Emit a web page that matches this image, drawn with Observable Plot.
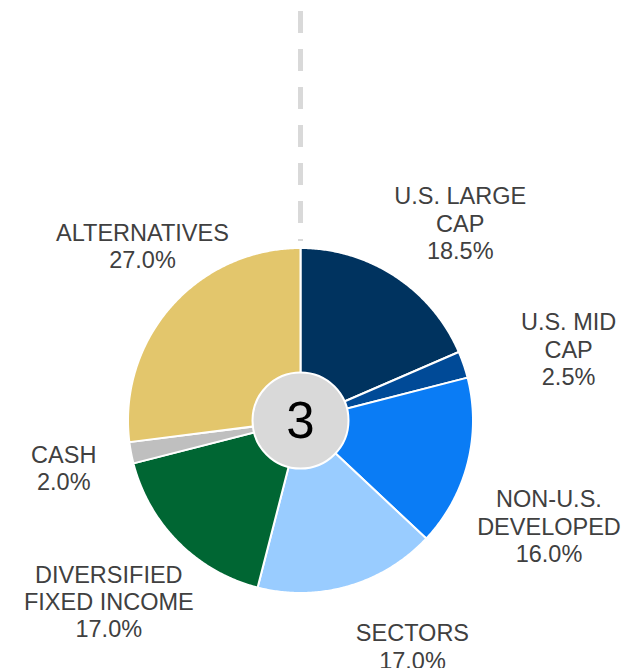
<!DOCTYPE html>
<html>
<head>
<meta charset="utf-8">
<script src="https://cdn.jsdelivr.net/npm/d3@7"></script>
<script src="https://cdn.jsdelivr.net/npm/@observablehq/plot@0.6"></script>
<style>
  html, body { margin: 0; padding: 0; background: #fff; }
  #chart svg { display: block; }
</style>
</head>
<body>
<div id="chart"></div>
<script>
// ---- data ----
const categories = ["U.S. LARGE\nCAP", "U.S. MID\nCAP", "NON-U.S.\nDEVELOPED", "SECTORS", "DIVERSIFIED\nFIXED INCOME", "CASH", "ALTERNATIVES"];
const weights = [18.5, 2.5, 16.0, 17.0, 17.0, 2.0, 27.0];
const colors = ["#00335f", "#004a97", "#0a7cf5", "#99ccff", "#006633", "#bfbfbf", "#e3c66c"];
const centerLabel = "3";

// ---- layout (pixels) ----
const W = 626, H = 668;
const CX = 300, CY = 420, R = 172.5;
const labelRadius = 240;
const labelNudge = [[28, 3], [41, 6], [16, 46], [45, -5], [-22, 11], [-1, 2], [22, -16]];

const total = d3.sum(weights);
const deg = Math.PI / 180;

// slice polygons (angles clockwise from 12 o'clock), in data units centred on pie
const slices = [];
let acc = 0;
const labels = [];
weights.forEach((w, i) => {
  const a0 = acc / total * 360, a1 = (acc + w) / total * 360;
  acc += w;
  const name = categories[i];
  slices.push({name, x: 0, y: 0});
  const n = Math.max(2, Math.ceil((a1 - a0) / 0.5));
  for (let k = 0; k <= n; k++) {
    const a = (a0 + (a1 - a0) * k / n) * deg;
    slices.push({name, x: R * Math.sin(a), y: R * Math.cos(a)});
  }
  const am = (a0 + a1) / 2 * deg;
  labels.push({
    text: name + "\n" + w.toFixed(1) + "%",
    x: labelRadius * Math.sin(am) + labelNudge[i][0],
    y: labelRadius * Math.cos(am) - labelNudge[i][1]
  });
});

const chart = Plot.plot({
  width: W,
  height: H,
  margin: 0,
  x: {type: "linear", domain: [-CX, W - CX], range: [0, W], axis: null},
  y: {type: "linear", domain: [CY - H, CY], range: [H, 0], axis: null},
  color: {domain: categories, range: colors},
  style: {fontFamily: "'Liberation Sans', Arial, sans-serif", background: "#fff"},
  marks: [
    Plot.ruleX([0], {y1: CY - 11, y2: CY - 241, stroke: "#d9d9d9", strokeWidth: 5, strokeDasharray: "22,16"}),
    Plot.line(slices, {x: "x", y: "y", z: "name", fill: "name", stroke: "#ffffff", strokeWidth: 2, strokeLinejoin: "round", curve: "linear-closed"}),
    Plot.dot([{x: 0, y: 0}], {x: "x", y: "y", r: 48, fill: "#d9d9d9", stroke: "#ffffff", strokeWidth: 2}),
    Plot.text([{x: 0, y: 0, t: centerLabel}], {x: "x", y: "y", text: "t", fontSize: 51, fill: "#000", textAnchor: "middle", dy: 1}),
    Plot.text(labels, {x: "x", y: "y", text: "text", fontSize: 23.5, lineHeight: 1.17, fill: "#404040", textAnchor: "middle", lineAnchor: "middle"})
  ]
});
document.getElementById("chart").appendChild(chart);
</script>
</body>
</html>
